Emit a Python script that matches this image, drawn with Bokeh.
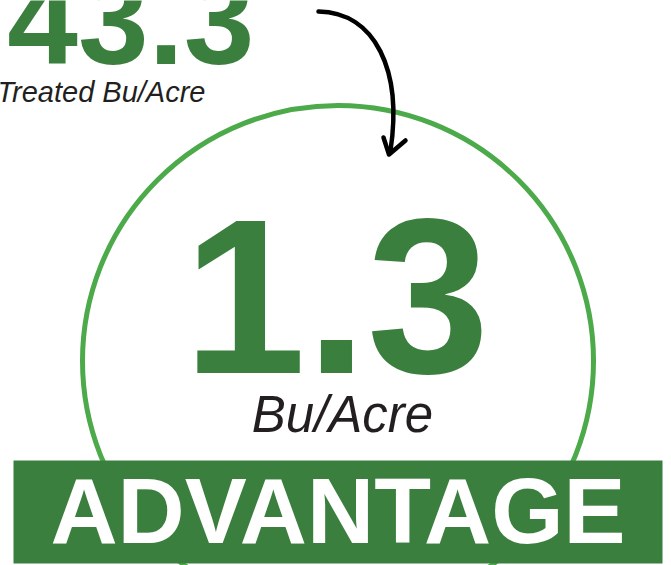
from bokeh.plotting import figure
from bokeh.models import Range1d
from bokeh.core.properties import value
from bokeh.embed import file_html
from bokeh.resources import INLINE

# ---- data ----
treated_value = [43.3]
advantage_value = [1.3]
treated_label = ["Treated Bu/Acre"]
unit_label = ["Bu/Acre"]
banner_label = ["ADVANTAGE"]

# ---- style ----
DARK_GREEN = "#3a7f3d"
CIRCLE_GREEN = "#4caa4a"
INK = "#231f20"
SHIFT = 0.34  # baseline correction (fraction of font size)

W, H = 671, 565
p = figure(width=W, height=H, x_range=Range1d(0, W), y_range=Range1d(H, 0),
           output_backend="svg", toolbar_location=None, min_border=0,
           x_axis_location=None, y_axis_location=None)
p.grid.visible = False
p.outline_line_color = None
p.background_fill_color = "white"
p.border_fill_color = "white"


def label(x, base, txt, size, color, align, style, font="Liberation Sans"):
    p.text(x=[x], y=[base - SHIFT * size], text=txt, text_font=value(font),
           text_font_style=style, text_font_size=f"{size}px", text_color=color,
           text_align=align, text_baseline="alphabetic")


# circle
p.circle(x=[337.5], y=[360.5], radius=255.5, fill_color=None,
         line_color=CIRCLE_GREEN, line_width=5)

# banner
p.quad(left=[13], right=[662], top=[460], bottom=[563], fill_color=DARK_GREEN,
       line_color=None)
label(337.5, 542, banner_label, 93, "white", "center", "bold")

# big number and unit
label(336, 371, [f"{v:.1f}" for v in advantage_value], 220, DARK_GREEN, "center", "bold")
label(342, 431, unit_label, 51, INK, "center", "italic")

# treated number and label
label(254, 63, [f"{v:.1f}" for v in treated_value], 127, DARK_GREEN, "right", "bold")
label(205, 101, treated_label, 29, INK, "right", "italic")

# arrow
arrow_path = dict(x0=[318], y0=[11], x1=[390], y1=[150],
                  cx0=[375], cy0=[12], cx1=[402], cy1=[70])
p.bezier(**arrow_path, line_color="black", line_width=4.5, line_cap="round")
head_xs = [[383, 388.5, 405]]
head_ys = [[137, 154, 140]]
p.multi_line(xs=head_xs, ys=head_ys, line_color="black", line_width=4.5,
             line_cap="round", line_join="round")

open("out.html", "w").write(file_html(p, INLINE))
